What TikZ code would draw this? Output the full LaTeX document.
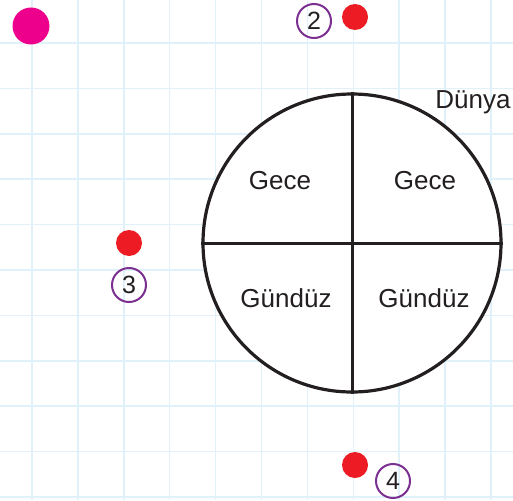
\documentclass[tikz,border=0pt]{standalone}
\usepackage{fontspec}
\setmainfont{Liberation Sans}
\usepackage{tikz}
\usetikzlibrary{positioning}
\definecolor{gridblue}{HTML}{E1F1FA}
\definecolor{dotred}{HTML}{ED1C24}
\definecolor{dotpink}{HTML}{EC008C}
\definecolor{numpurple}{HTML}{7B3091}
\definecolor{inkgray}{HTML}{231F20}
\begin{document}
\begin{tikzpicture}[x=1pt,y=-1pt,
gridline/.style={draw=gridblue,line width=1.5pt},
earthdisc/.style={circle,draw=inkgray,line width=3.2pt,fill=white,minimum size=298pt,inner sep=0pt},
divider/.style={draw=inkgray,line width=3pt},
lbl/.style={text=inkgray,font=\fontsize{26}{30}\selectfont,inner sep=0pt},
reddot/.style={circle,fill=dotred,minimum size=26pt,inner sep=0pt},
numring/.style={circle,draw=numpurple,line width=2pt,minimum size=34pt,inner sep=0pt,text=inkgray,font=\fontsize{25}{28}\selectfont}]
\useasboundingbox[fill=white](0,0) rectangle (513,500);
% grid
\foreach \i in {0,...,10}{
  \draw[gridline]({32+45.9*\i},0)--({32+45.9*\i},500);
  \draw[gridline](0,{43+45.4*\i})--(513,{43+45.4*\i});
}
% earth
\node[earthdisc](earth) at (352,243){};
\draw[divider](earth.north)--(earth.south);
\draw[divider](earth.west)--(earth.east);
\node[lbl](geceA) at (280,181){Gece};
\node[lbl](geceB) at (425,181){Gece};
\node[lbl](gunA) at (286,298){Gündüz};
\node[lbl](gunB) at (424,298){Gündüz};
\node[lbl](dunya) at (473,102){Dünya};
% positions
\node[circle,fill=dotpink,minimum size=37pt,inner sep=0pt](sun) at (31,26){};
\node[reddot](posB) at (355,17){};
\node[reddot](posC) at (129,243){};
\node[reddot](posD) at (355,465){};
\node[numring](numB) at (314,21){2};
\node[numring](numC) at (129,285){3};
\node[numring](numD) at (393,481){4};
\end{tikzpicture}
\end{document}
